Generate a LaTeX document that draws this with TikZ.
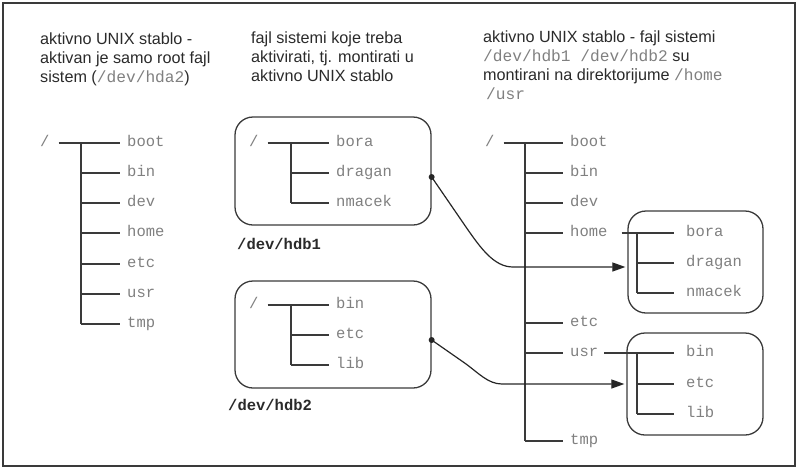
\documentclass[tikz,border=0pt]{standalone}
\usepackage{fontspec}
\setmainfont{Liberation Sans}
\setmonofont{Liberation Mono}
\usetikzlibrary{arrows.meta}
\definecolor{lineC}{HTML}{3A3A3A}
\definecolor{monoC}{HTML}{808080}
\definecolor{txtC}{HTML}{2A2A2A}
\newcommand{\mpath}[1]{{\ttfamily\color{monoC}#1}}
\begin{document}
\begin{tikzpicture}[x=1pt,y=-1pt,
 hdr/.style={anchor=north west, inner sep=0pt, align=left, text=txtC, font=\fontsize{16.2}{19}\selectfont},
 lbl/.style={anchor=west, inner sep=0pt, text=monoC, font=\ttfamily\fontsize{15.5}{18}\selectfont, text height=10.5pt, text depth=3pt},
 devlbl/.style={anchor=west, inner sep=0pt, text=txtC, font=\ttfamily\bfseries\fontsize{15.5}{18}\selectfont, text height=10.5pt, text depth=3pt},
 tline/.style={draw=lineC, line width=1.2pt},
 fsbox/.style={draw=lineC, line width=1.3pt, rounded corners=18pt, inner sep=0pt},
 conn/.style={draw=black!85, line width=1.2pt},
 tip/.style={-{Triangle[length=13pt,width=9pt]}},
]
\useasboundingbox (0,0) rectangle (802,472);
\draw[draw=lineC, line width=2.2pt] (3,3) rectangle (795,466);

% headers
\node[hdr] (h1) at (40,32.2) {aktivno UNIX stablo -\\aktivan je samo root fajl\\sistem (\mpath{/dev/hda2})};
\node[hdr] (h2) at (251,31.2) {fajl sistemi koje treba\\aktivirati, tj. montirati u\\aktivno UNIX stablo};
\node[hdr] (h3) at (483,30.2) {aktivno UNIX stablo - fajl sistemi\\\mpath{/dev/hdb1 /dev/hdb2} su\\montirani na direktorijume \mpath{/home}\\\hspace{3pt}\mpath{/usr}};

% left tree
\node[lbl] (Lroot) at (40,143) {/};
\foreach \n/\y in {boot/143,bin/173,dev/203,home/233,etc/264,usr/294,tmp/324}{
  \node[lbl] (L\n) at (127,\y) {\n};
  \draw[tline] (81,\y) -- ([xshift=-7pt]L\n.west);
}
\draw[tline] ([xshift=9pt]Lroot.east) -- (81,143);
\draw[tline] (81,143) -- (81,324);

% /dev/hdb1
\node[fsbox, minimum width=196pt, minimum height=108pt] (B1) at (333,171) {};
\node[lbl] (Aroot) at (249,143) {/};
\foreach \n/\y in {bora/143,dragan/173,nmacek/203}{
  \node[lbl] (A\n) at (336,\y) {\n};
  \draw[tline] (291,\y) -- ([xshift=-7pt]A\n.west);
}
\draw[tline] ([xshift=9pt]Aroot.east) -- (291,143);
\draw[tline] (291,143) -- (291,203);
\node[devlbl] (hdb1) at (237,246) {/dev/hdb1};

% /dev/hdb2
\node[fsbox, minimum width=196pt, minimum height=107pt] (B2) at (333,334.5) {};
\node[lbl] (Broot) at (249,305) {/};
\foreach \n/\y in {bin/305,etc/335,lib/365}{
  \node[lbl] (B\n) at (336,\y) {\n};
  \draw[tline] (291,\y) -- ([xshift=-7pt]B\n.west);
}
\draw[tline] ([xshift=9pt]Broot.east) -- (291,305);
\draw[tline] (291,305) -- (291,365);
\node[devlbl] (hdb2) at (228,407) {/dev/hdb2};

% right tree
\node[lbl] (Rroot) at (485,143) {/};
\foreach \n/\y in {boot/143,bin/173,dev/203,home/233,etc/323,usr/353,tmp/441}{
  \node[lbl] (R\n) at (570,\y) {\n};
  \draw[tline] (525,\y) -- ([xshift=-7pt]R\n.west);
}
\draw[tline] ([xshift=9pt]Rroot.east) -- (525,143);
\draw[tline] (525,143) -- (525,441);

% mounted hdb1 on /home
\node[fsbox, minimum width=135pt, minimum height=102pt] (B3) at (695.5,262) {};
\foreach \n/\y in {bora/233,dragan/263,nmacek/293}{
  \node[lbl] (H\n) at (686,\y) {\n};
  \draw[tline] (637,\y) -- ([xshift=-12pt]H\n.west);
}
\draw[tline] ([xshift=14pt]Rhome.east) -- (637,233);
\draw[tline] (637,233) -- (637,293);

% mounted hdb2 on /usr
\node[fsbox, minimum width=136pt, minimum height=102pt] (B4) at (695,384) {};
\foreach \n/\y in {bin/353,etc/384,lib/414}{
  \node[lbl] (U\n) at (686,\y) {\n};
  \draw[tline] (637,\y) -- ([xshift=-12pt]U\n.west);
}
\draw[tline] ([xshift=6pt]Rusr.east) -- (637,353);
\draw[tline] (637,353) -- (637,414);

% mount connectors
\coordinate (d1) at ([yshift=-6pt]B1.east);
\coordinate (t1) at ([xshift=-2pt,yshift=-5pt]B3.west);
\draw[conn,tip] (d1) -- ++(35,51) .. controls ++(14,20) and (494,267) .. (513,267) -- (t1);
\fill[black!85] (d1) circle (3pt);

\coordinate (d2) at ([yshift=-5.5pt]B2.east);
\coordinate (t2) at ([xshift=-2pt]B4.west);
\draw[conn,tip] (d2) -- ++(33,23) .. controls ++(14,10) and (488,384) .. (502,384) -- (t2);
\fill[black!85] (d2) circle (3pt);
\end{tikzpicture}
\end{document}
